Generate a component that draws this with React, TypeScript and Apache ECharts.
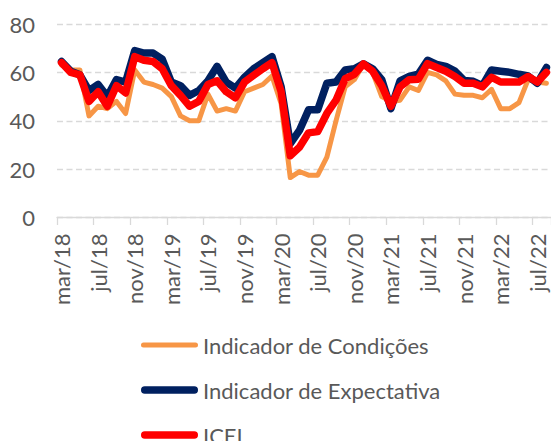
import React, { useEffect, useRef } from "react";
import * as echarts from "echarts";

const months = ["jan", "fev", "mar", "abr", "mai", "jun", "jul", "ago", "set", "out", "nov", "dez"];
const categories: string[] = [];
for (let y = 18; y <= 22; y++) {
  for (let m = 0; m < 12; m++) {
    if (y === 18 && m < 2) continue;
    if (y === 22 && m > 7) continue;
    categories.push(`${months[m]}/${y}`);
  }
}

const condicoes = [
  63, 61, 61, 42, 46, 45, 48, 43, 61, 56, 55, 53.5,
  50, 42, 40, 40, 51, 44, 45, 44, 52, 53.5, 55, 58.5,
  47, 16.5, 19, 17.5, 17.5, 25, 40, 54, 57, 63.5, 60, 50,
  48, 48.5, 54, 52.5, 60, 59, 56.5, 51, 50.5, 50.5, 49.5, 53,
  45, 45, 47.5, 57, 56, 55.5,
];

const expectativa = [
  64.5, 60.5, 59, 52.5, 55, 50, 57, 56, 69, 68, 68, 65.5,
  56, 54.5, 50.5, 52.5, 56.5, 62.5, 56, 53.5, 58, 61.5, 64, 66.5,
  54, 30.5, 36, 44.5, 44.5, 55.5, 56, 61, 61.5, 63.5, 61.5, 57,
  45, 56.5, 58.3, 59.3, 65, 63.3, 62.5, 60.5, 56.7, 56.3, 54.5, 61,
  60.5, 60, 59.2, 58.5, 55.5, 62,
];

const icei = [
  64, 60, 59, 48, 52, 46, 54.5, 51.5, 66.5, 65, 64.5, 61.5,
  54.5, 50.5, 46, 48, 55, 56.5, 52, 49.5, 56, 58.8, 61.5, 64,
  52, 25.5, 29, 35, 35.5, 43, 48.5, 57.4, 59.2, 63.5, 60.5, 54.5,
  46, 54, 57, 57.2, 63.6, 62, 60.5, 58.3, 55.5, 55.5, 54, 58,
  56, 56, 56, 58.3, 56, 60,
];

const seriesNames = ["Indicador de Condições", "Indicador de Expectativa", "ICEI"];
const seriesColors = ["#F79646", "#002060", "#FF0000"];
const seriesWidths = [5, 7.5, 7.5];
const seriesData = [condicoes, expectativa, icei];

const FONT = "Lato, 'Noto Sans', sans-serif";
const TEXT = "#595959";
const GRID = "#D9D9D9";

const capsuleThin = "path://M2.5 0H54.5A2.5 2.5 0 0 1 54.5 5H2.5A2.5 2.5 0 0 1 2.5 0Z";
const capsuleThick = "path://M3.75 0H53.25A3.75 3.75 0 0 1 53.25 7.5H3.75A3.75 3.75 0 0 1 3.75 0Z";
const legendIcons = [capsuleThin, capsuleThick, capsuleThick];

export default function App() {
  const ref = useRef<HTMLDivElement>(null);
  useEffect(() => {
    if (!ref.current) return;
    const chart = echarts.init(ref.current, undefined, { renderer: "svg" });
    chart.setOption({
      animation: false,
      backgroundColor: "#FFFFFF",
      textStyle: { fontFamily: FONT },
      grid: { left: 57, top: 24, width: 495, height: 193.5, containLabel: false },
      legend: {
        type: "plain",
        orient: "vertical",
        left: 141,
        top: 333,
        height: 160,
        width: 400,
        padding: 0,
        itemWidth: 57,
        itemHeight: 8,
        itemGap: 21,
        symbolKeepAspect: true,
        textStyle: { fontFamily: FONT, fontSize: 22, color: TEXT, lineHeight: 24 },
        data: seriesNames.map((n, i) => ({ name: n, icon: legendIcons[i] })),
      },
      xAxis: {
        type: "category",
        data: categories,
        boundaryGap: true,
        axisLine: { show: true, lineStyle: { color: GRID, width: 1.3 } },
        axisTick: { show: true, interval: 3, length: 7.5, alignWithLabel: false, lineStyle: { color: GRID, width: 1.3 } },
        axisLabel: {
          interval: 3,
          rotate: 90,
          margin: 16,
          fontSize: 22,
          fontFamily: FONT,
          color: TEXT,
          padding: [6, 0, 0, 0],
        },
        splitLine: { show: false },
      },
      yAxis: {
        type: "value",
        min: 0,
        max: 80,
        interval: 20,
        axisLine: { show: false },
        axisTick: { show: false },
        axisLabel: { margin: 22, fontSize: 22, fontFamily: FONT, color: TEXT },
        splitLine: { show: true, lineStyle: { color: GRID, width: 1.3, type: [6, 3.5] } },
      },
      series: seriesNames.map((name, i) => ({
        name,
        type: "line",
        data: seriesData[i],
        symbol: "none",
        showSymbol: false,
        color: seriesColors[i],
        itemStyle: { color: seriesColors[i] },
        lineStyle: { color: seriesColors[i], width: seriesWidths[i], cap: "round", join: "round" },
        emphasis: { disabled: true },
      })),
    });
    return () => chart.dispose();
  }, []);
  return (
    <div
      ref={ref}
      style={{ position: "fixed", left: 0, top: 0, width: 551, height: 441, background: "#fff" }}
    />
  );
}
